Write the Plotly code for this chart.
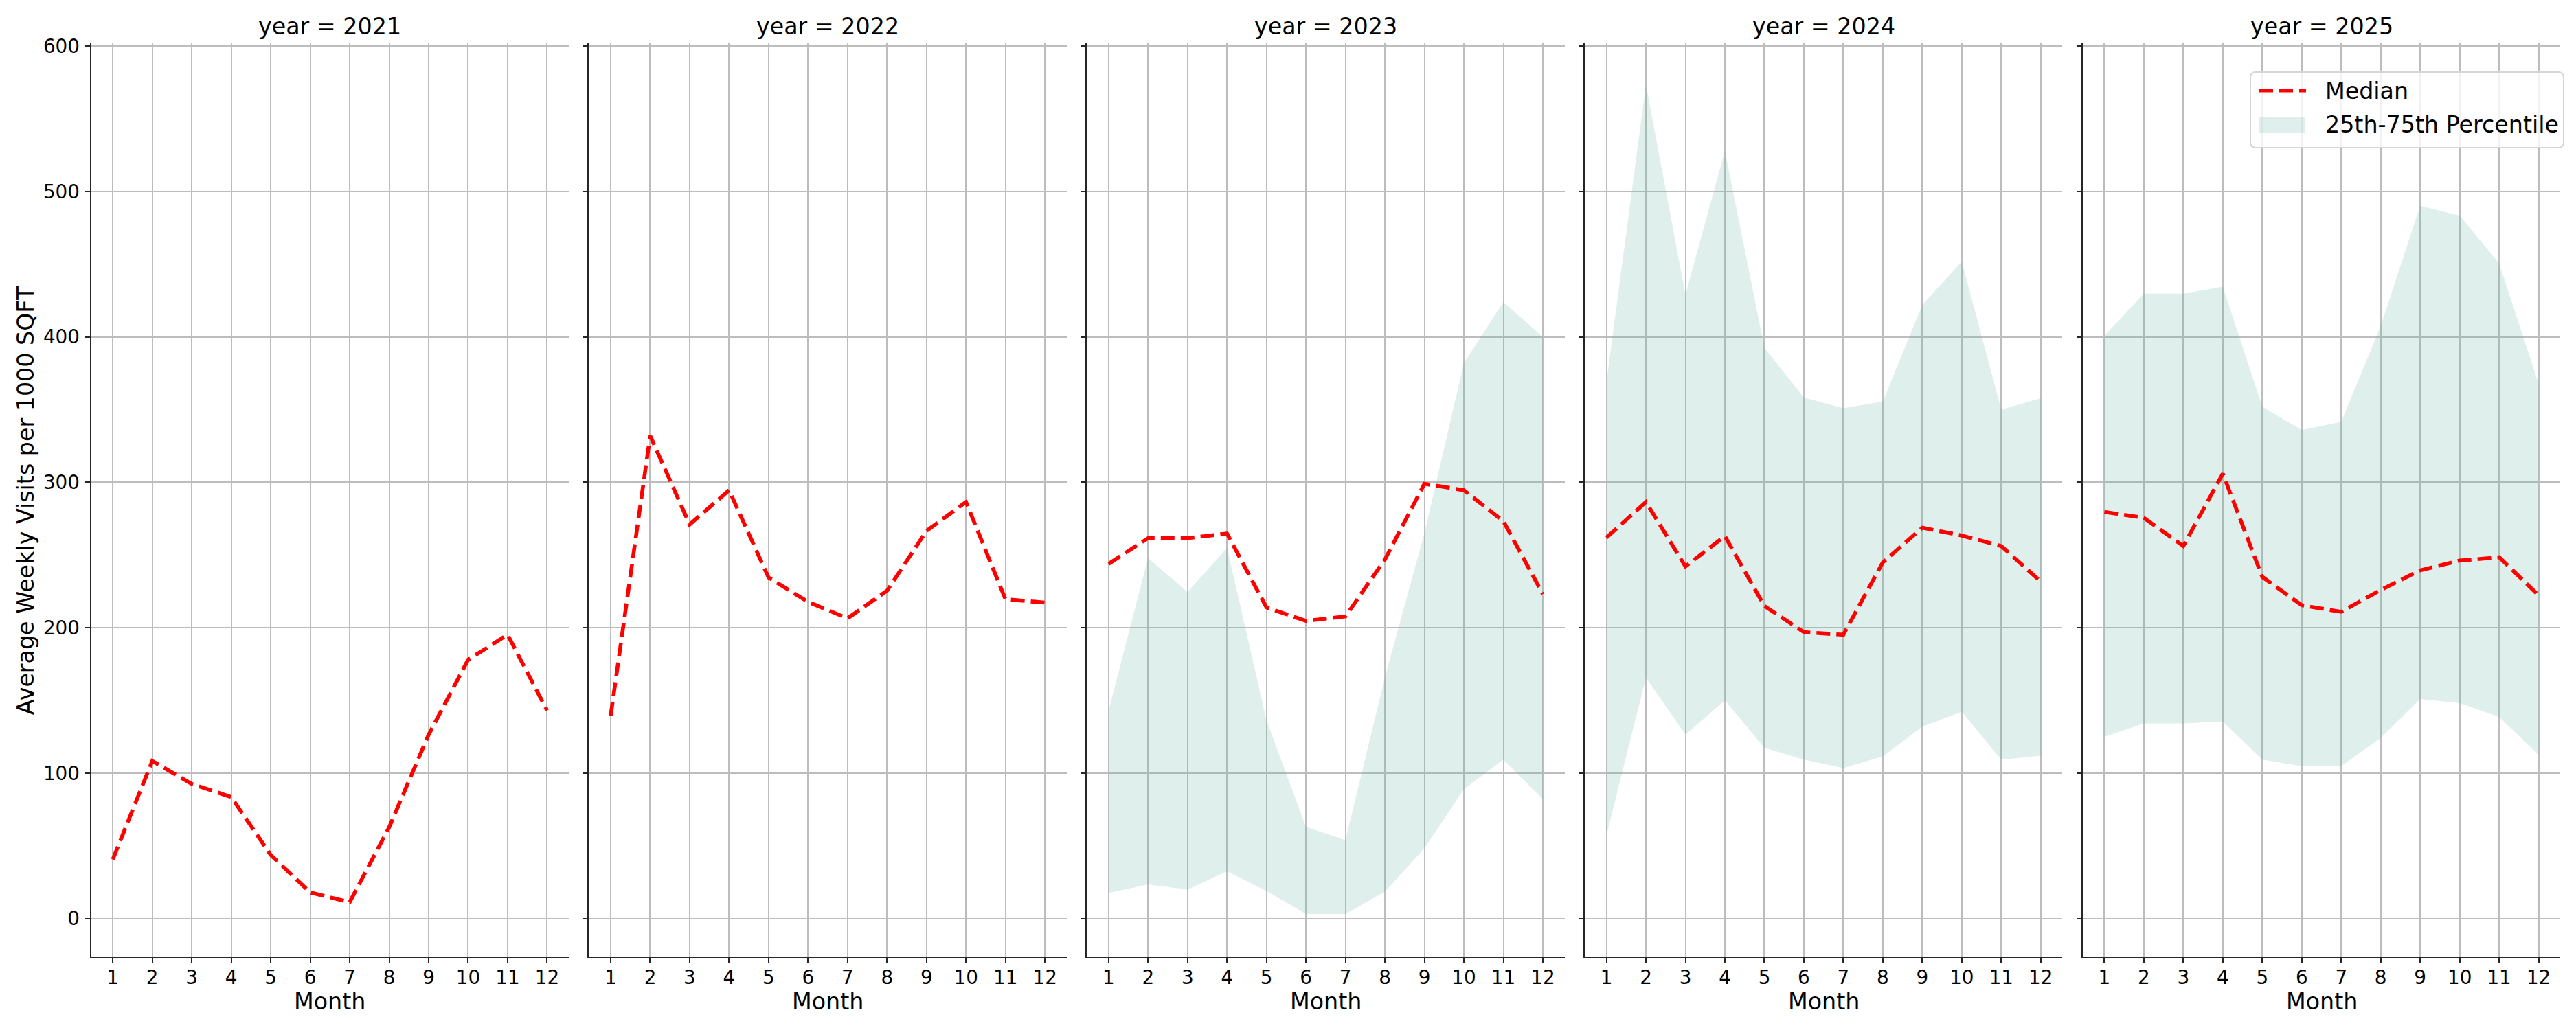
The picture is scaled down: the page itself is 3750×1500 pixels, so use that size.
import plotly.graph_objects as go
from plotly.subplots import make_subplots

# Month numbers and facet years
months = list(range(1, 13))
years = [2021, 2022, 2023, 2024, 2025]

# Median of average weekly visits per 1000 sqft, read per year
median_2021 = [40.7, 108.4, 92.6, 83.6, 43.8, 18.0, 11.3, 62.8, 126.5, 178.0, 195.2, 143.2]
median_2022 = [139.6, 332.0, 271.0, 294.6, 234.5, 217.8, 206.5, 225.5, 266.6, 286.5, 219.6, 217.3]
median_2023 = [244.0, 261.6, 261.6, 264.8, 214.0, 204.7, 207.8, 247.0, 299.0, 294.6, 273.3, 223.2]
median_2024 = [262.0, 286.5, 242.2, 263.0, 215.0, 197.0, 195.2, 245.0, 268.8, 263.4, 256.2, 231.8]
median_2025 = [279.7, 275.6, 256.2, 306.0, 235.0, 215.5, 211.0, 226.0, 239.5, 246.2, 248.5, 222.3]

# 25th / 75th percentiles (only available from 2023 on)
p25_2023 = [17.6, 23.5, 19.9, 32.5, 19.0, 3.2, 3.2, 18.5, 48.3, 89.0, 109.3, 82.2]
p75_2023 = [143.0, 248.0, 224.6, 255.0, 136.4, 63.0, 54.0, 166.0, 265.0, 382.0, 424.0, 400.0]
p25_2024 = [57.4, 165.8, 126.5, 150.0, 117.5, 109.3, 103.5, 111.6, 132.0, 142.3, 109.3, 112.0]
p75_2024 = [369.0, 573.4, 429.0, 528.0, 392.6, 358.3, 351.0, 355.6, 422.0, 451.8, 350.0, 357.8]
p25_2025 = [125.0, 134.2, 134.2, 135.5, 109.3, 104.8, 104.8, 124.2, 151.0, 148.2, 138.7, 112.5]
p75_2025 = [400.8, 429.7, 429.7, 434.6, 352.0, 336.0, 341.6, 407.5, 490.2, 483.4, 450.5, 367.8]

y_ticks = [0, 100, 200, 300, 400, 500, 600]

medians = {2021: median_2021, 2022: median_2022, 2023: median_2023,
           2024: median_2024, 2025: median_2025}
bands = {2023: (p25_2023, p75_2023), 2024: (p25_2024, p75_2024),
         2025: (p25_2025, p75_2025)}

# page body has an 8px margin, so the figure is drawn 8px smaller and
# every pixel position below is given in window coordinates;
# vertical positions get a small empirical correction (capture stretch)
OFF = 8
W, H = 3750 - OFF, 1500 - OFF
Y_SCALE, Y_SHIFT = 0.9925, 10
FONT = "DejaVu Sans"
SPINE = "#262626"
GRID = "#bdbdbd"
FILL = "rgba(105,179,162,0.21)"
DASH = "20px,9px"


def px_x(p):
    return (p - OFF) / W


def px_y(p):
    return 1 - ((p - Y_SHIFT) / Y_SCALE - OFF) / H


fig = make_subplots(rows=1, cols=len(years), shared_yaxes=True)

for i, yr in enumerate(years):
    col = i + 1
    if yr in bands:
        lo, hi = bands[yr]
        fig.add_trace(go.Scatter(
            x=months, y=lo, mode="lines", line=dict(width=0),
            showlegend=False, hoverinfo="skip"), row=1, col=col)
        fig.add_trace(go.Scatter(
            x=months, y=hi, mode="lines", line=dict(width=0),
            fill="tonexty", fillcolor=FILL,
            name="25th-75th Percentile", showlegend=False), row=1, col=col)
    fig.add_trace(go.Scatter(
        x=months, y=medians[yr], mode="lines",
        line=dict(color="red", width=5.6, dash=DASH),
        name="Median", showlegend=False), row=1, col=col)

# panel geometry in window pixels
left0, pw, step = 132.6, 695.4, 724.8
y_bot, y_top = 1392, 61
annotations = []
for i, yr in enumerate(years):
    n = "" if i == 0 else str(i + 1)
    x0 = px_x(left0 + i * step)
    x1 = px_x(left0 + i * step + pw)
    fig.update_layout(**{
        f"xaxis{n}": dict(
            domain=[x0, x1], range=[0.45, 12.55], tickmode="array",
            tickvals=months, showgrid=True, gridcolor=GRID, gridwidth=2,
            zeroline=False, showline=True, linecolor=SPINE, linewidth=2.2,
            ticks="outside", ticklen=7, tickwidth=2, tickcolor=SPINE,
            ticklabelstandoff=-3,
            tickfont=dict(family=FONT, size=27.8, color="black")),
        f"yaxis{n}": dict(
            domain=[px_y(y_bot), px_y(y_top)], range=[-26.2, 602.4],
            tickmode="array", tickvals=y_ticks, showgrid=True,
            gridcolor=GRID, gridwidth=2, zeroline=False, showline=True,
            linecolor=SPINE, linewidth=2.2, ticks="outside", ticklen=7,
            tickwidth=2, tickcolor=SPINE, showticklabels=(i == 0),
            ticklabelstandoff=2,
            tickfont=dict(family=FONT, size=27.8, color="black")),
    })
    xc = (x0 + x1) / 2
    annotations.append(dict(
        text=f"year = {yr}", x=xc, y=px_y(37), xref="paper", yref="paper",
        xanchor="center", yanchor="middle", showarrow=False,
        font=dict(family=FONT, size=33.3, color="black")))
    annotations.append(dict(
        text="Month", x=xc, y=px_y(1457), xref="paper", yref="paper",
        xanchor="center", yanchor="middle", showarrow=False,
        font=dict(family=FONT, size=33.3, color="black")))

annotations.append(dict(
    text="Average Weekly Visits per 1000 SQFT", x=px_x(37),
    y=px_y(728), xref="paper", yref="paper",
    xanchor="center", yanchor="middle", textangle=-90, showarrow=False,
    font=dict(family=FONT, size=33.3, color="black")))

# legend box drawn in the last panel (rounded frame, two handles, labels)
lx0, lx1, ly0, ly1, r = 3276, 3732, 104, 214, 8
frame = (
    f"M {px_x(lx0 + r)},{px_y(ly0)} L {px_x(lx1 - r)},{px_y(ly0)} "
    f"Q {px_x(lx1)},{px_y(ly0)} {px_x(lx1)},{px_y(ly0 + r)} "
    f"L {px_x(lx1)},{px_y(ly1 - r)} "
    f"Q {px_x(lx1)},{px_y(ly1)} {px_x(lx1 - r)},{px_y(ly1)} "
    f"L {px_x(lx0 + r)},{px_y(ly1)} "
    f"Q {px_x(lx0)},{px_y(ly1)} {px_x(lx0)},{px_y(ly1 - r)} "
    f"L {px_x(lx0)},{px_y(ly0 + r)} "
    f"Q {px_x(lx0)},{px_y(ly0)} {px_x(lx0 + r)},{px_y(ly0)} Z"
)
shapes = [
    dict(type="path", path=frame, xref="paper", yref="paper",
         fillcolor="rgba(255,255,255,0.8)", line=dict(color="#d6d6d6", width=2)),
    dict(type="line", xref="paper", yref="paper",
         x0=px_x(3289), x1=px_x(3357), y0=px_y(130.7), y1=px_y(130.7),
         line=dict(color="red", width=5.6, dash=DASH)),
    dict(type="rect", xref="paper", yref="paper",
         x0=px_x(3289), x1=px_x(3356), y0=px_y(169), y1=px_y(192),
         fillcolor=FILL, line=dict(width=0)),
]
annotations.append(dict(
    text="Median", x=px_x(3383), y=px_y(131), xref="paper", yref="paper",
    xanchor="left", yanchor="middle", showarrow=False,
    font=dict(family=FONT, size=33.3, color="black")))
annotations.append(dict(
    text="25th-75th Percentile", x=px_x(3383), y=px_y(180),
    xref="paper", yref="paper", xanchor="left", yanchor="middle",
    showarrow=False, font=dict(family=FONT, size=33.3, color="black")))

fig.update_layout(
    width=W, height=H,
    margin=dict(l=0, r=0, t=0, b=0),
    paper_bgcolor="white", plot_bgcolor="white",
    annotations=annotations,
    shapes=shapes,
    showlegend=False,
)

fig.write_html("out.html")
